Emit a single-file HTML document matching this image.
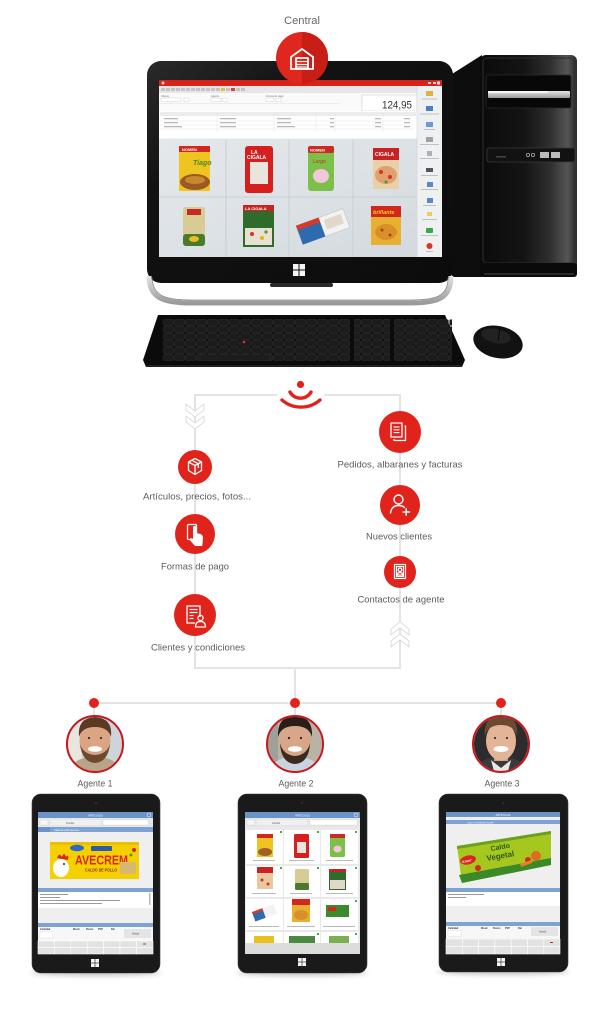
<!DOCTYPE html>
<html><head><meta charset="utf-8">
<style>
html,body{margin:0;padding:0;background:#fff;}
svg{display:block;}
text{font-family:"Liberation Sans",Arial,sans-serif;}
</style></head><body>
<svg width="614" height="1024" viewBox="0 0 614 1024" xmlns="http://www.w3.org/2000/svg">
<defs>
 <linearGradient id="tower" x1="0" x2="1" y1="0" y2="0">
  <stop offset="0" stop-color="#0b0b0b"/>
  <stop offset="0.45" stop-color="#141414"/>
  <stop offset="0.72" stop-color="#2e2e2e"/>
  <stop offset="0.9" stop-color="#555"/>
  <stop offset="1" stop-color="#2a2a2a"/>
 </linearGradient>
 <linearGradient id="bezel" x1="0" x2="1" y1="0" y2="1">
  <stop offset="0" stop-color="#2a2a2a"/>
  <stop offset="0.3" stop-color="#121212"/>
  <stop offset="1" stop-color="#0c0c0c"/>
 </linearGradient>
 <linearGradient id="grid" x1="0" x2="1" y1="0" y2="1">
  <stop offset="0" stop-color="#e4e8eb"/>
  <stop offset="0.5" stop-color="#dde2e6"/>
  <stop offset="1" stop-color="#d3d9de"/>
 </linearGradient>
 <linearGradient id="silver" x1="0" x2="0" y1="0" y2="1">
  <stop offset="0" stop-color="#e4e4e4"/>
  <stop offset="1" stop-color="#9a9a9a"/>
 </linearGradient>
 <pattern id="keys" width="11" height="7" patternUnits="userSpaceOnUse" x="163" y="319">
  <rect x="0.6" y="0.6" width="9.8" height="5.8" rx="1" fill="#1c1c1c" stroke="#333" stroke-width="0.5"/>
 </pattern>
 <filter id="blur" x="-20%" y="-200%" width="140%" height="500%"><feGaussianBlur stdDeviation="2.5"/></filter>
 <clipPath id="av1"><circle cx="95" cy="744" r="27"/></clipPath>
 <clipPath id="av2"><circle cx="295" cy="744" r="27"/></clipPath>
 <clipPath id="av3"><circle cx="501" cy="744" r="27"/></clipPath>
</defs>

<rect width="614" height="1024" fill="#fff"/>

<text x="302" y="24" font-size="11" fill="#666" text-anchor="middle" textLength="36" lengthAdjust="spacingAndGlyphs">Central</text>

<!-- Tower -->
<polygon points="452,74 482,55 482,277 452,277" fill="#0d0d0d"/>
<rect x="480" y="55" width="97" height="222" rx="6" fill="url(#tower)"/>
<rect x="483" y="58" width="91" height="205" rx="4" fill="none" stroke="#2e2e2e" stroke-width="1"/>
<rect x="486" y="75" width="85" height="33" rx="2" fill="#080808" stroke="#2a2a2a" stroke-width="0.8"/>
<rect x="488" y="91" width="82" height="7" rx="1" fill="url(#silver)"/>
<rect x="488" y="91" width="60" height="2" fill="#f4f4f4"/>
<rect x="487" y="148" width="88" height="14" rx="2" fill="#121212" stroke="#3a3a3a" stroke-width="0.8"/>
<circle cx="528" cy="155" r="1.6" fill="none" stroke="#aaa" stroke-width="0.8"/>
<circle cx="533" cy="155" r="1.6" fill="none" stroke="#aaa" stroke-width="0.8"/>
<rect x="540" y="152" width="9" height="6" fill="#bbb"/>
<rect x="551" y="152" width="9" height="6" fill="#bbb"/>
<rect x="496" y="156" width="10" height="1.5" fill="#444"/>
<rect x="480" y="263" width="97" height="14" rx="3" fill="#0a0a0a"/>
<rect x="484" y="273" width="90" height="2" fill="#2a2a2a"/>

<!-- Monitor -->
<rect x="147" y="61" width="306" height="222" rx="14" fill="url(#bezel)"/>
<rect x="159" y="80" width="283" height="177" fill="#f3f3f3"/>
<rect x="159" y="80" width="283" height="6" fill="#d6231b"/>
<circle cx="163" cy="83" r="1.5" fill="#fff" opacity="0.8"/>
<rect x="428" y="82" width="3" height="2" fill="#fff" opacity="0.8"/>
<rect x="433" y="82" width="3" height="2" fill="#fff" opacity="0.8"/>
<rect x="437" y="81.5" width="3" height="3" fill="#fff" opacity="0.9"/>
<rect x="159" y="86" width="258" height="7" fill="#e6e6e6"/>
<g fill="#c4c4c4">
 <rect x="161" y="88" width="4" height="3"/><rect x="166" y="88" width="4" height="3"/><rect x="171" y="88" width="4" height="3"/><rect x="176" y="88" width="4" height="3"/><rect x="181" y="88" width="4" height="3"/><rect x="186" y="88" width="4" height="3"/><rect x="191" y="88" width="4" height="3"/><rect x="196" y="88" width="4" height="3"/><rect x="201" y="88" width="4" height="3"/><rect x="206" y="88" width="4" height="3"/><rect x="211" y="88" width="4" height="3"/><rect x="216" y="88" width="4" height="3"/><rect x="226" y="88" width="4" height="3"/><rect x="236" y="88" width="4" height="3"/><rect x="241" y="88" width="4" height="3"/>
</g>
<rect x="221" y="88" width="4" height="3" fill="#e8c040"/><rect x="231" y="88" width="4" height="3" fill="#d84030"/>
<rect x="159" y="93" width="258" height="18" fill="#fafafa"/>
<g font-size="2.6" fill="#777">
 <text x="161" y="97">Cliente</text><text x="211" y="97">Agente</text><text x="266" y="97">Forma de pago</text><text x="363" y="97">Total</text>
</g>
<g fill="#fff" stroke="#c8c8c8" stroke-width="0.4">
 <rect x="161" y="98" width="20" height="3.5"/><rect x="184" y="98" width="5" height="3.5"/>
 <rect x="211" y="98" width="10" height="3.5"/><rect x="222" y="98" width="5" height="3.5"/>
 <rect x="266" y="98" width="8" height="3.5"/><rect x="276" y="98" width="5" height="3.5"/>
</g>
<line x1="159" y1="103.5" x2="340" y2="103.5" stroke="#ddd" stroke-width="0.5"/>
<rect x="362" y="95" width="55" height="16" fill="#fff" stroke="#d0d0d0" stroke-width="0.6"/>
<text x="412" y="108.5" font-size="11" fill="#333" text-anchor="end" textLength="30" lengthAdjust="spacingAndGlyphs">124,95</text>
<rect x="159" y="111" width="258" height="27" fill="#fff"/>
<rect x="160" y="112" width="256" height="4" fill="#ececec"/>
<g stroke="#e0e0e0" stroke-width="0.4">
 <line x1="217" y1="112" x2="217" y2="132"/><line x1="274" y1="112" x2="274" y2="132"/><line x1="316" y1="112" x2="316" y2="132"/><line x1="335" y1="112" x2="335" y2="132"/><line x1="383" y1="112" x2="383" y2="132"/>
 <line x1="160" y1="121" x2="414" y2="121"/><line x1="160" y1="125" x2="414" y2="125"/><line x1="160" y1="129" x2="414" y2="129"/>
</g>
<g fill="#bbb">
 <rect x="164" y="118" width="14" height="1.3"/><rect x="220" y="118" width="16" height="1.3"/><rect x="277" y="118" width="14" height="1.3"/><rect x="330" y="118" width="4" height="1.3"/><rect x="375" y="118" width="6" height="1.3"/><rect x="404" y="118" width="6" height="1.3"/>
 <rect x="164" y="122" width="14" height="1.3"/><rect x="220" y="122" width="16" height="1.3"/><rect x="277" y="122" width="14" height="1.3"/><rect x="330" y="122" width="4" height="1.3"/><rect x="375" y="122" width="6" height="1.3"/><rect x="404" y="122" width="6" height="1.3"/>
 <rect x="164" y="126" width="18" height="1.3"/><rect x="220" y="126" width="16" height="1.3"/><rect x="277" y="126" width="18" height="1.3"/><rect x="330" y="126" width="4" height="1.3"/><rect x="375" y="126" width="6" height="1.3"/><rect x="404" y="126" width="6" height="1.3"/>
</g>
<rect x="159" y="139" width="258" height="118" fill="url(#grid)"/>
<g stroke="#c9cfd4" stroke-width="1">
 <line x1="226" y1="140" x2="226" y2="257"/><line x1="289" y1="140" x2="289" y2="257"/><line x1="353" y1="140" x2="353" y2="257"/>
 <line x1="159" y1="197" x2="417" y2="197"/>
</g>
<g>
 <rect x="179" y="146" width="31" height="45" rx="1" fill="#f0c420"/>
 <rect x="179" y="146" width="31" height="6" fill="#d0281e"/>
 <text x="182" y="151" font-size="4" fill="#fff" font-weight="bold">NOMEN</text>
 <ellipse cx="195" cy="182" rx="15" ry="8" fill="#9a5a24"/>
 <ellipse cx="195" cy="180" rx="10" ry="4" fill="#c8882c"/>
 <text x="193" y="165" font-size="7" fill="#4a8a20" font-style="italic" font-weight="bold">Tiago</text>
 <rect x="245" y="146" width="28" height="47" rx="3" fill="#d61f1f"/>
 <text x="251" y="154" font-size="5" fill="#fff" font-weight="bold">LA</text>
 <text x="247" y="159" font-size="5" fill="#fff" font-weight="bold">CIGALA</text>
 <rect x="250" y="162" width="18" height="22" fill="#e9e5dc"/>
 <rect x="308" y="146" width="26" height="45" rx="3" fill="#7cc04a"/>
 <rect x="308" y="146" width="26" height="7" rx="2" fill="#cc2a22"/>
 <text x="310" y="151.5" font-size="4" fill="#fff" font-weight="bold">NOMEN</text>
 <text x="313" y="163" font-size="5" fill="#c83020" font-style="italic">Largo</text>
 <ellipse cx="321" cy="176" rx="8" ry="7" fill="#f0c8d8"/>
 <rect x="373" y="148" width="26" height="41" fill="#ead0a8"/>
 <rect x="373" y="148" width="26" height="12" fill="#c82222"/>
 <text x="375" y="156" font-size="5" fill="#fff" font-weight="bold">CIGALA</text>
 <ellipse cx="386" cy="175" rx="11" ry="9" fill="#e0a070"/>
 <circle cx="381" cy="172" r="2" fill="#d83020"/><circle cx="390" cy="177" r="2" fill="#d83020"/><circle cx="386" cy="182" r="1.5" fill="#4a9a30"/>
</g>
<g>
 <rect x="183" y="207" width="22" height="39" rx="3" fill="#d8cc96"/>
 <rect x="187" y="209" width="14" height="6" fill="#c82a22"/>
 <rect x="183" y="234" width="22" height="12" rx="3" fill="#4c7a2c"/>
 <ellipse cx="194" cy="239" rx="5" ry="3" fill="#e8c020"/>
 <rect x="243" y="205" width="31" height="42" fill="#2f6b2a"/>
 <rect x="243" y="205" width="31" height="6" fill="#c82222"/>
 <text x="245" y="210" font-size="4" fill="#fff" font-weight="bold">LA CIGALA</text>
 <rect x="245" y="228" width="27" height="17" fill="#e8e0d0"/>
 <circle cx="252" cy="234" r="2" fill="#d83020"/><circle cx="262" cy="238" r="2" fill="#e8b020"/><circle cx="266" cy="232" r="1.6" fill="#4a9a30"/>
 <g transform="rotate(-20 322 227)">
  <rect x="298" y="217" width="50" height="20" fill="#f2f2f2" stroke="#bbb" stroke-width="0.5"/>
  <rect x="298" y="217" width="24" height="20" fill="#2d6ab0"/>
  <rect x="298" y="217" width="24" height="5" fill="#d83a2a"/>
  <rect x="326" y="221" width="18" height="10" fill="#e0d8c8"/>
 </g>
 <rect x="371" y="206" width="30" height="39" fill="#e8b030"/>
 <rect x="371" y="206" width="30" height="11" fill="#d4261c"/>
 <text x="373" y="214" font-size="5.5" fill="#f4d020" font-weight="bold" font-style="italic">brillante</text>
 <ellipse cx="386" cy="232" rx="11" ry="8" fill="#d89028"/>
 <circle cx="382" cy="230" r="1.5" fill="#c83020"/><circle cx="390" cy="235" r="1.5" fill="#c83020"/>
</g>
<rect x="417" y="86" width="25" height="171" fill="#eef0f2"/>
<line x1="417" y1="86" x2="417" y2="257" stroke="#d0d4d8" stroke-width="0.6"/>
<g>
 <rect x="426" y="91" width="7" height="5" fill="#e0b040"/>
 <rect x="426" y="106" width="7" height="5" fill="#4a7fc0"/>
 <rect x="426" y="122" width="7" height="5" fill="#6a9ad8"/>
 <rect x="426" y="137" width="7" height="5" fill="#a0a0a0"/>
 <rect x="427" y="151" width="5" height="5" fill="#b0b0b0"/>
 <rect x="426" y="168" width="7" height="4" fill="#555"/>
 <rect x="427" y="182" width="6" height="5" fill="#5a8ac8"/>
 <rect x="427" y="198" width="6" height="5" fill="#5a8ac8"/>
 <rect x="427" y="212" width="5" height="4" fill="#e8d060"/>
 <rect x="426" y="228" width="7" height="5" rx="1" fill="#3aa84a"/>
 <circle cx="429.5" cy="246" r="3" fill="#d9342a"/>
</g>
<g fill="#c0c0c0">
 <rect x="422" y="98.5" width="15" height="1"/><rect x="420" y="113.5" width="19" height="1"/><rect x="424" y="129" width="11" height="1"/><rect x="420" y="144" width="19" height="1"/><rect x="420" y="158" width="19" height="1"/><rect x="421" y="175" width="17" height="1"/><rect x="421" y="189" width="17" height="1"/><rect x="423" y="205" width="13" height="1"/><rect x="422" y="219" width="15" height="1"/><rect x="421" y="235" width="17" height="1"/><rect x="426" y="251" width="7" height="1"/>
</g>
<g fill="#f4f4f4">
 <rect x="293" y="264" width="5.5" height="5.5"/><rect x="299.5" y="264" width="5.5" height="5.5"/>
 <rect x="293" y="270.5" width="5.5" height="5.5"/><rect x="299.5" y="270.5" width="5.5" height="5.5"/>
</g>
<path d="M149,276 C149,299 165,303 192,303 L410,303 C437,303 451,299 451,276" fill="none" stroke="url(#silver)" stroke-width="5"/>
<path d="M152,278 C153,297 167,300 192,300 L410,300 C435,300 448,297 448,278" fill="none" stroke="#8a8a8a" stroke-width="0.8"/>
<rect x="270" y="283" width="63" height="4" rx="2" fill="#2a2a2a"/>

<circle cx="302" cy="58" r="26" fill="#e0271d"/>
<path d="M302,32 A26,26 0 0 1 302,84 Z" fill="#c81e16"/>
<g fill="none" stroke="#fff" stroke-width="1.8" stroke-linejoin="round">
 <path d="M291,57 L302,49 L313,57 L313,69 L291,69 Z"/>
 <rect x="296" y="58" width="12" height="11"/>
</g>
<g stroke="#fff" stroke-width="1.2">
 <line x1="296" y1="61.5" x2="308" y2="61.5"/><line x1="296" y1="64.5" x2="308" y2="64.5"/><line x1="296" y1="67" x2="308" y2="67"/>
</g>

<!-- Keyboard -->
<polygon points="158,315 445,315 465,360 462,367 146,367 143,360" fill="#0b0b0b"/>
<line x1="146" y1="366" x2="462" y2="366" stroke="#2e2e2e" stroke-width="1.2"/>
<rect x="163" y="319" width="187" height="42" fill="url(#keys)"/>
<rect x="354" y="319" width="36" height="42" fill="url(#keys)"/>
<rect x="394" y="319" width="58" height="42" fill="url(#keys)"/>
<rect x="200" y="354.6" width="70" height="5.8" rx="1" fill="#1c1c1c" stroke="#333" stroke-width="0.5"/>
<circle cx="244" cy="342" r="1.3" fill="#e03020"/>
<ellipse cx="498" cy="342" rx="25" ry="16" fill="#121212" transform="rotate(12 498 342)"/>
<ellipse cx="496" cy="336" rx="15" ry="7" fill="#2a2a2a" opacity="0.7" transform="rotate(12 496 336)"/>
<line x1="500" y1="328" x2="498" y2="341" stroke="#000" stroke-width="0.8"/>

<!-- Sync frame -->
<rect x="195" y="395" width="205" height="273" fill="none" stroke="#e3e3e3" stroke-width="2"/>
<rect x="277" y="390" width="47" height="12" fill="#fff"/>
<circle cx="300.5" cy="384.5" r="3.6" fill="#e0231b"/>
<path d="M290,392 A12,12 0 0 0 311,392" fill="none" stroke="#e0231b" stroke-width="3.4" stroke-linecap="round"/>
<path d="M282,400 A29,29 0 0 0 320,400" fill="none" stroke="#e0231b" stroke-width="3.4" stroke-linecap="round"/>
<g fill="#fff" stroke="#dcdcdc" stroke-width="1" stroke-linejoin="round">
 <polygon points="186,404 195,411 204,404 204,410 195,417 186,410"/>
 <polygon points="186,416 195,423 204,416 204,422 195,429 186,422"/>
</g>
<g fill="#fff" stroke="#dcdcdc" stroke-width="1" stroke-linejoin="round">
 <polygon points="391,629 400,622 409,629 409,635 400,628 391,635"/>
 <polygon points="391,641 400,634 409,641 409,647 400,640 391,647"/>
</g>
<line x1="295" y1="669" x2="295" y2="703" stroke="#e3e3e3" stroke-width="2"/>

<circle cx="195" cy="467" r="17" fill="#e0231b"/>
<g fill="none" stroke="#fff" stroke-width="1.3" stroke-linejoin="round">
 <path d="M188.5,462 L195,458.5 L201.5,462 L195,465.5 Z"/>
 <path d="M188.5,462 L188.5,470.5 L195,474.5 L201.5,470.5 L201.5,462"/>
 <line x1="195" y1="465.5" x2="195" y2="474.5"/>
 <path d="M191.8,460.2 L198.3,463.8 L198.3,468"/>
</g>
<circle cx="195" cy="534" r="20" fill="#e0231b"/>
<rect x="187.5" y="524.5" width="9" height="15" rx="1" fill="none" stroke="#fff" stroke-width="1.3"/>
<path d="M193,534 L193,527.5 Q193,526 194.6,526 Q196.2,526 196.2,527.5 L196.2,533 L200.5,534 Q203,535 203,538 L202.3,546 L195,546 L190.2,540.5 Q189.2,538.8 190.8,538 L193,539 Z" fill="#fff"/>
<circle cx="195" cy="615" r="21" fill="#e0231b"/>
<g fill="none" stroke="#fff" stroke-width="1.3">
 <path d="M200,617 L200,606 L187,606 L187,623 L195,623"/>
</g>
<g stroke="#fff" stroke-width="1.2">
 <line x1="189.5" y1="609.5" x2="197.5" y2="609.5"/><line x1="189.5" y1="612.5" x2="197.5" y2="612.5"/><line x1="189.5" y1="615.5" x2="193.5" y2="615.5"/><line x1="189.5" y1="618.5" x2="193.5" y2="618.5"/>
</g>
<circle cx="200.5" cy="618" r="2.6" fill="none" stroke="#fff" stroke-width="1.3"/>
<path d="M195.5,627 Q195.5,621.5 200.5,621.5 Q205.5,621.5 205.5,627 Z" fill="none" stroke="#fff" stroke-width="1.3"/>

<circle cx="400" cy="432" r="21" fill="#e0231b"/>
<g fill="none" stroke="#fff" stroke-width="1.3" stroke-linejoin="round">
 <rect x="391" y="423" width="11" height="14"/>
 <path d="M404.5,426 L405.5,426 L405.5,440.5 L394,440.5 L394,439"/>
</g>
<g stroke="#fff" stroke-width="1.1">
 <line x1="393.5" y1="427" x2="399.5" y2="427"/><line x1="393.5" y1="429.8" x2="399.5" y2="429.8"/><line x1="393.5" y1="432.6" x2="399.5" y2="432.6"/>
</g>
<circle cx="400" cy="505" r="20" fill="#e0231b"/>
<g fill="none" stroke="#fff" stroke-width="1.4" stroke-linecap="round">
 <circle cx="398.5" cy="499.5" r="4.5"/>
 <path d="M390.5,513 Q391.5,505.5 398.5,505.5 Q402.5,505.5 404.5,507.5"/>
 <line x1="403" y1="512" x2="409.5" y2="512"/><line x1="406.2" y1="508.8" x2="406.2" y2="515.2"/>
</g>
<circle cx="400" cy="572" r="16" fill="#e0231b"/>
<g fill="none" stroke="#fff" stroke-width="1.2">
 <rect x="394.5" y="564.5" width="11" height="14"/>
 <rect x="396.5" y="566.5" width="7" height="10"/>
 <circle cx="400" cy="569.8" r="1.8"/>
 <path d="M397.3,575 Q397.5,572.5 400,572.5 Q402.5,572.5 402.7,575 Z"/>
</g>

<g font-size="9.5" fill="#5c5c5c" text-anchor="middle">
 <text x="197" y="499.5" textLength="108" lengthAdjust="spacingAndGlyphs">Artículos, precios, fotos...</text>
 <text x="195" y="569.5" textLength="68" lengthAdjust="spacingAndGlyphs">Formas de pago</text>
 <text x="198" y="650.5" textLength="94" lengthAdjust="spacingAndGlyphs">Clientes y condiciones</text>
 <text x="400" y="467.5" textLength="125" lengthAdjust="spacingAndGlyphs">Pedidos, albaranes y facturas</text>
 <text x="399" y="539.5" textLength="66" lengthAdjust="spacingAndGlyphs">Nuevos clientes</text>
 <text x="401" y="602.5" textLength="87" lengthAdjust="spacingAndGlyphs">Contactos de agente</text>
</g>

<line x1="94" y1="703" x2="501" y2="703" stroke="#e3e3e3" stroke-width="2"/>
<g stroke="#e3e3e3" stroke-width="2">
 <line x1="94" y1="703" x2="94" y2="717"/><line x1="295" y1="703" x2="295" y2="717"/><line x1="501" y1="703" x2="501" y2="717"/>
</g>
<g fill="#e0231b">
 <circle cx="94" cy="703" r="5"/><circle cx="295" cy="703" r="5"/><circle cx="501" cy="703" r="5"/>
</g>

<!-- Avatar 1 -->
<g clip-path="url(#av1)">
 <rect x="66" y="715" width="60" height="60" fill="#cdd5db"/>
 <rect x="66" y="715" width="16" height="60" fill="#e9e5df"/>
 <path d="M68,775 Q70,758 95,756 Q120,758 122,775 Z" fill="#b8a488"/>
 <rect x="88" y="752" width="14" height="9" fill="#c89276"/>
 <ellipse cx="95" cy="741" rx="15.5" ry="19.5" fill="#dba584"/>
 <path d="M79,737 Q77,718 95,717 Q113,718 111,737 Q108,727 95,727 Q82,727 79,737 Z" fill="#5a3a24"/>
 <path d="M80,744 Q82,762 95,763 Q108,762 110,744 Q107,754 95,755 Q83,754 80,744 Z" fill="#6b4a30"/>
 <ellipse cx="95" cy="749" rx="7" ry="2.8" fill="#fff"/>
 <circle cx="89" cy="738" r="1.1" fill="#333"/><circle cx="101" cy="738" r="1.1" fill="#333"/>
</g>
<circle cx="95" cy="744" r="28" fill="none" stroke="#c8161d" stroke-width="2"/>
<!-- Avatar 2 -->
<g clip-path="url(#av2)">
 <rect x="266" y="715" width="60" height="60" fill="#b9b3a6"/>
 <rect x="266" y="715" width="12" height="60" fill="#9fa09a"/>
 <path d="M268,775 Q270,758 295,756 Q320,758 322,775 Z" fill="#c8d4e0"/>
 <rect x="288" y="752" width="14" height="9" fill="#c48e72"/>
 <ellipse cx="295" cy="741" rx="16" ry="19.5" fill="#d8a688"/>
 <path d="M278,737 Q277,716 295,716 Q313,716 312,737 Q309,726 295,726 Q281,726 278,737 Z" fill="#2a1f18"/>
 <path d="M280,743 Q281,763 295,764 Q309,763 310,743 Q307,755 295,756 Q283,755 280,743 Z" fill="#3a2a20"/>
 <ellipse cx="295" cy="749" rx="7" ry="2.8" fill="#fff"/>
 <circle cx="289" cy="738" r="1.1" fill="#222"/><circle cx="301" cy="738" r="1.1" fill="#222"/>
</g>
<circle cx="295" cy="744" r="28" fill="none" stroke="#c8161d" stroke-width="2"/>
<!-- Avatar 3 -->
<g clip-path="url(#av3)">
 <rect x="472" y="715" width="60" height="60" fill="#2c2c2c"/>
 <path d="M474,775 Q476,758 501,756 Q526,758 528,775 Z" fill="#3a3a3a"/>
 <path d="M491,760 L501,768 L511,760 L507,775 L495,775 Z" fill="#e8e8e8"/>
 <rect x="494" y="752" width="14" height="9" fill="#d2a084"/>
 <ellipse cx="501" cy="741" rx="15" ry="19.5" fill="#e4b496"/>
 <path d="M485,736 Q483,716 501,716 Q519,716 517,736 Q514,725 501,725 Q488,725 485,736 Z" fill="#6b4a30"/>
 <ellipse cx="501" cy="749" rx="7.5" ry="3" fill="#fff"/>
 <circle cx="495" cy="738" r="1.1" fill="#333"/><circle cx="507" cy="738" r="1.1" fill="#333"/>
</g>
<circle cx="501" cy="744" r="28" fill="none" stroke="#c8161d" stroke-width="2"/>

<g font-size="9.5" fill="#5c5c5c" text-anchor="middle">
 <text x="95" y="786.5" textLength="35" lengthAdjust="spacingAndGlyphs">Agente 1</text>
 <text x="296" y="786.5" textLength="35" lengthAdjust="spacingAndGlyphs">Agente 2</text>
 <text x="502" y="786.5" textLength="35" lengthAdjust="spacingAndGlyphs">Agente 3</text>
</g>

<g fill="#000" opacity="0.22" filter="url(#blur)">
 <ellipse cx="96" cy="973" rx="66" ry="3"/>
 <ellipse cx="302" cy="973" rx="66" ry="3"/>
 <ellipse cx="503" cy="972" rx="66" ry="3"/>
</g>

<!-- Tablet 1 -->
<rect x="32" y="794" width="128" height="179" rx="9" fill="#1a1a1a" stroke="#3a3a3a" stroke-width="0.6"/>
<circle cx="96" cy="803" r="1" fill="#333"/>
<rect x="38" y="812" width="115" height="142" fill="#efefef"/>
<rect x="38" y="812" width="115" height="6" fill="#6a93c8"/>
<text x="95.5" y="816.5" font-size="2.6" fill="#fff" text-anchor="middle">ARTÍCULOS</text>
<circle cx="149" cy="815" r="2" fill="none" stroke="#fff" stroke-width="0.5"/>
<rect x="38" y="818" width="115" height="9" fill="#e6e6e6"/>
<rect x="40" y="820" width="8" height="5" fill="#f6f6f6" stroke="#ccc" stroke-width="0.3"/>
<rect x="51" y="820" width="50" height="5" fill="#f0f0f0"/>
<text x="66" y="823.8" font-size="2.5" fill="#666">Familia</text>
<rect x="103" y="820" width="45" height="5" fill="#fff" stroke="#ccc" stroke-width="0.3"/>
<rect x="38" y="827" width="115" height="5" fill="#7ea2d2"/>
<rect x="38" y="827" width="12" height="5" fill="#6a93c8"/>
<text x="54" y="830.8" font-size="2.4" fill="#fff">Caldo de pollo Avecrem</text>
<rect x="50" y="842" width="89" height="37" fill="#f5d000"/>
<rect x="50" y="842" width="89" height="3" fill="#e8c000"/>
<ellipse cx="77" cy="848" rx="7" ry="3.2" fill="#2a6ac8"/>
<rect x="91" y="846" width="21" height="5" rx="1" fill="#2a5aa8"/>
<ellipse cx="61" cy="868" rx="8" ry="9" fill="#fff"/>
<path d="M57,858 Q59,852 62,857 Q64,851 66,857 Q69,853 68,860 Z" fill="#d8261c"/>
<circle cx="64" cy="864" r="1" fill="#222"/>
<text x="75" y="864.5" font-size="13" font-weight="bold" fill="#d9261c" textLength="53" lengthAdjust="spacingAndGlyphs">AVECREM</text>
<text x="85" y="871.5" font-size="4.5" font-weight="bold" fill="#8a2a10" textLength="32" lengthAdjust="spacingAndGlyphs">CALDO DE POLLO</text>
<rect x="120" y="862" width="16" height="12" fill="#d8b870"/>
<circle cx="134" cy="850" r="2" fill="#d8261c"/><circle cx="131" cy="855" r="1.5" fill="#4a9a30"/>
<rect x="38" y="888" width="115" height="4" fill="#7ea2d2"/>
<rect x="38" y="892" width="115" height="16" fill="#fff"/>
<g fill="#999">
 <rect x="40" y="894" width="28" height="1"/><rect x="40" y="897" width="20" height="1"/><rect x="40" y="900" width="80" height="1"/><rect x="40" y="903" width="62" height="1"/>
</g>
<rect x="149" y="893" width="1.5" height="12" fill="#bbb"/>
<rect x="38" y="923" width="115" height="4" fill="#7ea2d2"/>
<rect x="38" y="927" width="115" height="14" fill="#f7f7f7"/>
<g font-size="2.4" fill="#333" font-weight="bold">
 <text x="40" y="930">Cantidad</text><text x="73" y="930">Mostr.</text><text x="86" y="930">Precio</text><text x="98" y="930">PVP</text><text x="111" y="930">Dto</text>
</g>
<rect x="40" y="932" width="13" height="6" fill="#fff" stroke="#ccc" stroke-width="0.3"/>
<rect x="124" y="929" width="27" height="9" fill="#e4e4e4"/>
<text x="132" y="934.5" font-size="2.5" fill="#555">Añadir</text>
<g fill="#e2e2e2" stroke="#fff" stroke-width="0.6">
 <rect x="38" y="941" width="16.4" height="6.5"/><rect x="54.4" y="941" width="16.4" height="6.5"/><rect x="70.8" y="941" width="16.4" height="6.5"/><rect x="87.2" y="941" width="16.4" height="6.5"/><rect x="103.6" y="941" width="16.4" height="6.5"/><rect x="120" y="941" width="16.4" height="6.5"/><rect x="136.4" y="941" width="16.6" height="6.5"/>
 <rect x="38" y="947.5" width="16.4" height="6.5"/><rect x="54.4" y="947.5" width="16.4" height="6.5"/><rect x="70.8" y="947.5" width="16.4" height="6.5"/><rect x="87.2" y="947.5" width="16.4" height="6.5"/><rect x="103.6" y="947.5" width="16.4" height="6.5"/><rect x="120" y="947.5" width="16.4" height="6.5"/><rect x="136.4" y="947.5" width="16.6" height="6.5"/>
</g>
<rect x="143" y="943.5" width="3" height="1" fill="#d8261c"/>
<g fill="#f4f4f4">
 <rect x="91" y="959" width="3.7" height="3.7"/><rect x="95.3" y="959" width="3.7" height="3.7"/><rect x="91" y="963.3" width="3.7" height="3.7"/><rect x="95.3" y="963.3" width="3.7" height="3.7"/>
</g>

<!-- Tablet 2 -->
<rect x="238" y="794" width="129" height="179" rx="9" fill="#1a1a1a" stroke="#3a3a3a" stroke-width="0.6"/>
<circle cx="302" cy="803" r="1" fill="#333"/>
<rect x="245" y="812" width="115" height="142" fill="#e9e9e9"/>
<rect x="245" y="812" width="115" height="6" fill="#6a93c8"/>
<text x="302.5" y="816.5" font-size="2.6" fill="#fff" text-anchor="middle">ARTÍCULOS</text>
<circle cx="356" cy="815" r="2" fill="none" stroke="#fff" stroke-width="0.5"/>
<rect x="245" y="818" width="115" height="9" fill="#e6e6e6"/>
<rect x="247" y="820" width="8" height="5" fill="#f6f6f6" stroke="#ccc" stroke-width="0.3"/>
<rect x="257" y="820" width="50" height="5" fill="#f0f0f0"/>
<text x="272" y="823.8" font-size="2.5" fill="#666">Familia</text>
<rect x="310" y="820" width="47" height="5" fill="#fff" stroke="#ccc" stroke-width="0.3"/>
<g fill="#fff">
 <rect x="246" y="830" width="37" height="34"/><rect x="284" y="830" width="36" height="34"/><rect x="321" y="830" width="37" height="34"/>
 <rect x="246" y="866" width="37" height="31"/><rect x="284" y="866" width="36" height="31"/><rect x="321" y="866" width="37" height="31"/>
 <rect x="246" y="899" width="37" height="31"/><rect x="284" y="899" width="36" height="31"/><rect x="321" y="899" width="37" height="31"/>
 <rect x="246" y="932" width="37" height="11"/><rect x="284" y="932" width="36" height="11"/><rect x="321" y="932" width="37" height="11"/>
</g>
<g fill="#3ab04a">
 <rect x="280" y="831" width="2" height="2"/><rect x="317" y="831" width="2" height="2"/><rect x="355" y="831" width="2" height="2"/>
 <rect x="280" y="867" width="2" height="2"/><rect x="317" y="867" width="2" height="2"/><rect x="355" y="867" width="2" height="2"/>
 <rect x="355" y="900" width="2" height="2"/><rect x="317" y="933" width="2" height="2"/><rect x="355" y="933" width="2" height="2"/>
</g>
<rect x="257" y="834" width="16" height="23" fill="#f0c420"/><rect x="257" y="834" width="16" height="4" fill="#d0281e"/><ellipse cx="265" cy="852" rx="7" ry="4" fill="#a06028"/>
<rect x="294" y="834" width="15" height="24" rx="1.5" fill="#d61f1f"/><rect x="297" y="842" width="9" height="11" fill="#e9e5dc"/>
<rect x="330" y="834" width="15" height="23" rx="1.5" fill="#7cc04a"/><rect x="330" y="834" width="15" height="4" fill="#cc2a22"/><ellipse cx="337.5" cy="849" rx="4" ry="3.5" fill="#f0c8d8"/>
<rect x="257" y="867" width="16" height="22" fill="#e8c8a0"/><rect x="257" y="867" width="16" height="6" fill="#c82222"/><circle cx="262" cy="880" r="1.5" fill="#d83020"/><circle cx="268" cy="884" r="1.5" fill="#d83020"/>
<rect x="295" y="869" width="14" height="21" rx="1.5" fill="#d8cc96"/><rect x="295" y="883" width="14" height="7" rx="1.5" fill="#4c7a2c"/>
<rect x="329" y="869" width="17" height="21" fill="#2f6b2a"/><rect x="329" y="869" width="17" height="3" fill="#c82222"/><rect x="330" y="880" width="15" height="9" fill="#e0d8c8"/>
<g transform="rotate(-20 264 913)"><rect x="253" y="908" width="23" height="10" fill="#f2f2f2"/><rect x="253" y="908" width="11" height="10" fill="#2d6ab0"/><rect x="253" y="908" width="11" height="2.5" fill="#d83a2a"/></g>
<rect x="292" y="899" width="18" height="23" fill="#e8b030"/><rect x="292" y="899" width="18" height="6" fill="#d4261c"/><ellipse cx="301" cy="915" rx="7" ry="5" fill="#d89028"/>
<rect x="326" y="905" width="23" height="12" fill="#3a8a30"/><rect x="328" y="907" width="8" height="4" fill="#d8261c"/>
<rect x="254" y="936" width="20" height="7" fill="#e8c020"/><rect x="289" y="936" width="26" height="7" fill="#4a8a40"/><rect x="329" y="936" width="20" height="7" fill="#7ab050"/>
<g fill="#aaa">
 <rect x="253" y="860" width="22" height="0.8"/><rect x="289" y="860" width="25" height="0.8"/><rect x="326" y="860" width="27" height="0.8"/>
 <rect x="252" y="893" width="24" height="0.8"/><rect x="290" y="893" width="22" height="0.8"/><rect x="326" y="893" width="27" height="0.8"/>
 <rect x="249" y="926" width="30" height="0.8"/><rect x="287" y="926" width="28" height="0.8"/><rect x="323" y="926" width="32" height="0.8"/>
</g>
<rect x="245" y="943" width="115" height="11" fill="#dcdcdc"/>
<g fill="#f4f4f4">
 <rect x="298" y="958" width="3.7" height="3.7"/><rect x="302.3" y="958" width="3.7" height="3.7"/><rect x="298" y="962.3" width="3.7" height="3.7"/><rect x="302.3" y="962.3" width="3.7" height="3.7"/>
</g>

<!-- Tablet 3 -->
<rect x="439" y="794" width="129" height="178" rx="9" fill="#1a1a1a" stroke="#3a3a3a" stroke-width="0.6"/>
<circle cx="503" cy="803" r="1" fill="#333"/>
<rect x="446" y="812" width="114" height="142" fill="#efefef"/>
<rect x="446" y="812" width="114" height="5" fill="#6a93c8"/>
<text x="503" y="816" font-size="2.6" fill="#fff" text-anchor="middle">ARTÍCULOS</text>
<rect x="446" y="820" width="114" height="4" fill="#7ea2d2"/>
<text x="467" y="823.3" font-size="2.2" fill="#fff">CALDO VEGETAL KNORR</text>
<polygon points="457,846 551,831 551,865 462,883" fill="#a6c81e"/>
<polygon points="459,875 551,858 551,865 462,883" fill="#3a8a2a"/>
<polygon points="457,846 551,831 551,834 457,849" fill="#6aa020"/>
<ellipse cx="468" cy="860" rx="8" ry="4.5" fill="#d8261c" transform="rotate(-12 468 860)"/>
<text x="462" y="862" font-size="3.5" fill="#fff" font-weight="bold" font-style="italic" transform="rotate(-12 468 860)">Knorr</text>
<text x="491" y="851" font-size="7" fill="#2a5a1a" font-weight="bold" font-family="Liberation Serif, serif" transform="rotate(-10 491 851)">Caldo</text>
<text x="487" y="861" font-size="8" fill="#2a5a1a" font-weight="bold" font-family="Liberation Serif, serif" transform="rotate(-10 487 861)">Vegetal</text>
<circle cx="536" cy="856" r="5" fill="#e06a20"/><circle cx="528" cy="860" r="3" fill="#d8261c"/><circle cx="478" cy="868" r="3" fill="#d8261c"/><rect x="520" y="862" width="12" height="3" fill="#e88020" transform="rotate(-20 526 863)"/>
<rect x="446" y="888" width="114" height="4" fill="#7ea2d2"/>
<rect x="446" y="892" width="114" height="14" fill="#fff"/>
<g fill="#999"><rect x="448" y="894" width="36" height="1"/><rect x="448" y="897" width="18" height="1"/></g>
<rect x="446" y="922" width="114" height="4" fill="#7ea2d2"/>
<rect x="446" y="926" width="114" height="12" fill="#f7f7f7"/>
<g font-size="2.4" fill="#333" font-weight="bold">
 <text x="448" y="929">Cantidad</text><text x="481" y="929">Mostr.</text><text x="493" y="929">Precio</text><text x="505" y="929">PVP</text><text x="518" y="929">Dto</text>
</g>
<rect x="448" y="930.5" width="13" height="6" fill="#fff" stroke="#ccc" stroke-width="0.3"/>
<rect x="531" y="927" width="27" height="9" fill="#e4e4e4"/>
<text x="539" y="932.5" font-size="2.5" fill="#555">Añadir</text>
<g fill="#e2e2e2" stroke="#fff" stroke-width="0.6">
 <rect x="446" y="939" width="16.3" height="7.5"/><rect x="462.3" y="939" width="16.3" height="7.5"/><rect x="478.6" y="939" width="16.3" height="7.5"/><rect x="494.9" y="939" width="16.3" height="7.5"/><rect x="511.2" y="939" width="16.3" height="7.5"/><rect x="527.5" y="939" width="16.3" height="7.5"/><rect x="543.8" y="939" width="16.2" height="7.5"/>
 <rect x="446" y="946.5" width="16.3" height="7.5"/><rect x="462.3" y="946.5" width="16.3" height="7.5"/><rect x="478.6" y="946.5" width="16.3" height="7.5"/><rect x="494.9" y="946.5" width="16.3" height="7.5"/><rect x="511.2" y="946.5" width="16.3" height="7.5"/><rect x="527.5" y="946.5" width="16.3" height="7.5"/><rect x="543.8" y="946.5" width="16.2" height="7.5"/>
</g>
<rect x="550" y="942" width="3" height="1" fill="#d8261c"/>
<g fill="#f4f4f4">
 <rect x="497" y="958" width="3.7" height="3.7"/><rect x="501.3" y="958" width="3.7" height="3.7"/><rect x="497" y="962.3" width="3.7" height="3.7"/><rect x="501.3" y="962.3" width="3.7" height="3.7"/>
</g>
</svg>
</body></html>
